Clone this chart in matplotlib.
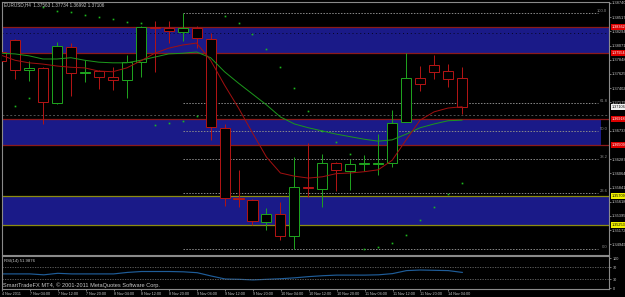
import numpy as np
import matplotlib
matplotlib.use("Agg")
import matplotlib.pyplot as plt
import matplotlib.transforms as mtransforms
from matplotlib.patches import Rectangle

# EURUSD H4 candles (4 Nov 20:00 .. 14 Nov 04:00)
opens = [1.37970, 1.38158, 1.37687, 1.37718, 1.37169, 1.38048, 1.37640, 1.37671,
         1.37577, 1.37530, 1.37813, 1.38362, 1.38346, 1.38284, 1.38346, 1.38174,
         1.36776, 1.35677, 1.35646, 1.35301, 1.35426, 1.35081, 1.35850, 1.35819,
         1.36227, 1.36101, 1.36211, 1.36211, 1.36227, 1.36871, 1.37561, 1.37765,
         1.37671, 1.37563]
highs = [1.38001, 1.38174, 1.37828, 1.37734, 1.38127, 1.38111, 1.37844, 1.37687,
         1.37734, 1.37922, 1.38378, 1.38456, 1.38456, 1.38582, 1.38378, 1.38268,
         1.36839, 1.36117, 1.35662, 1.35520, 1.35615, 1.36321, 1.36541, 1.36368,
         1.36243, 1.36290, 1.36352, 1.36682, 1.37059, 1.37954, 1.37750, 1.37922,
         1.37781, 1.37734]
lows = [1.37797, 1.37546, 1.37514, 1.36839, 1.37153, 1.37279, 1.37499, 1.37389,
        1.37373, 1.37247, 1.37577, 1.37656, 1.38111, 1.38142, 1.38032, 1.36588,
        1.35552, 1.35536, 1.35253, 1.35175, 1.35018, 1.34877, 1.35693, 1.35536,
        1.35787, 1.35803, 1.36101, 1.36038, 1.36164, 1.36871, 1.37357, 1.37546,
        1.37420, 1.36992]
closes = [1.37828, 1.37687, 1.37718, 1.37185, 1.38064, 1.37640, 1.37656, 1.37577,
          1.37530, 1.37813, 1.38362, 1.38346, 1.38299, 1.38346, 1.38189, 1.36792,
          1.35677, 1.35662, 1.35316, 1.35426, 1.35081, 1.35850, 1.35834, 1.36227,
          1.36117, 1.36211, 1.36227, 1.36227, 1.36855, 1.37561, 1.37467, 1.37656,
          1.37546, 1.37106]

ma_fast = [1.3792, 1.3784, 1.3780, 1.3778, 1.3775, 1.3773, 1.3772, 1.3767, 1.3766,
           1.3772, 1.3783, 1.3795, 1.3803, 1.3808, 1.3811, 1.3784, 1.3745, 1.3709,
           1.3670, 1.3632, 1.3607, 1.3602, 1.3599, 1.3601, 1.3606, 1.3607, 1.3609,
           1.3612, 1.3627, 1.3659, 1.3690, 1.3703, 1.3709, 1.3711]
ma_slow = [1.3795, 1.3794, 1.3791, 1.3786, 1.3786, 1.3788, 1.3784, 1.3781, 1.3780,
           1.3780, 1.3784, 1.3789, 1.3794, 1.3795, 1.3797, 1.3788, 1.3766, 1.3748,
           1.3731, 1.3714, 1.3695, 1.3684, 1.3678, 1.3673, 1.3668, 1.3664, 1.3660,
           1.3657, 1.3659, 1.3668, 1.3678, 1.3684, 1.3689, 1.3690]
sar = [np.nan, 1.37122, 1.37247, 1.38676, 1.38613, 1.38598, 1.38550, 1.38519,
       1.38488, 1.38441, 1.38425, 1.36823, 1.36855, 1.36886, 1.36965, np.nan,
       1.38535, 1.38425, 1.38252, 1.38017, 1.37734, 1.37404, 1.37043, 1.36729,
       1.36557, 1.36368, 1.34877, 1.34908, 1.34971, 1.35096, 1.35332, 1.35536,
       1.35740, 1.35913]
rsi = [47, 47, 47, 44, 49, 47, 47, 47, 47, 52, 55, 55, 55, 54, 51, 40, 30, 29,
       27, 29, 31, 34, 38, 41, 43, 43, 43, 44, 48, 58, 60, 59, 58, 52]

time_labels = ["4 Nov 2011", "7 Nov 04:00", "7 Nov 12:00", "7 Nov 20:00",
               "8 Nov 04:00", "8 Nov 12:00", "8 Nov 20:00", "9 Nov 04:00",
               "9 Nov 12:00", "9 Nov 20:00", "10 Nov 04:00", "10 Nov 12:00",
               "10 Nov 20:00", "11 Nov 04:00", "11 Nov 12:00", "11 Nov 20:00",
               "14 Nov 04:00"]

# supply / demand zones (bottom, top) and border colour
zones = [(1.37954, 1.38362, "#8b1a1a"), (1.36509, 1.36918, "#8b1a1a"),
         (1.35253, 1.35709, "#8c8c10")]
fib_high, fib_low = 1.38582, 1.34877
fib_levels = [0.0, 23.6, 38.2, 50.0, 61.8, 100.0]
last_price = 1.37106

W, H = 625, 297
BULL, BEAR = "#1ea01e", "#b01414"
GRAY = "#8a8a8a"
TXT = "#c8c8c8"
FONT = "Liberation Sans"


def box(x0, y0, x1, y1):
    return [x0 / W, 1 - y1 / H, (x1 - x0) / W, (y1 - y0) / H]


fig = plt.figure(figsize=(W / 100, H / 100), dpi=100, facecolor="black")
ax = fig.add_axes(box(2, 2, 609, 255))
rax = fig.add_axes(box(2, 256, 609, 289))
x = np.arange(len(closes))

for a in (ax, rax):
    a.set_facecolor("black")
    a.set_xlim(0.07, 43.52)
    for s in a.spines.values():
        s.set_color(GRAY)
        s.set_linewidth(0.8)

ax.set_ylim(1.34782, 1.38755)

# zones
for k, (lo, hi, ec) in enumerate(zones):
    xmax = 0.987 if k == 1 else 1.0
    ax.axhspan(lo, hi, xmax=xmax, color="#1a1a88", lw=0, zorder=1)
    ax.axhline(lo, color=ec, lw=0.9, zorder=2)
    ax.axhline(hi, color=ec, lw=0.9, zorder=2)

# misc level lines
ax.axhline(1.38268, color="#050520", lw=0.7, ls=(0, (1, 3)), zorder=2)
ax.axhline(1.36980, color="#505050", lw=0.7, ls=(0, (2, 2)), zorder=2)

# fibonacci
for lv in fib_levels:
    p = fib_low + (fib_high - fib_low) * lv / 100
    ax.hlines(p, 13.03, 42.73, color=GRAY, lw=0.7, ls=(0, (1.5, 1.5)), zorder=2)
    ax.text(43.4, p, f"{lv:.1f}", ha="right", va="bottom", fontsize=3,
            color=GRAY, family=FONT, zorder=6)

# candles
for i, (o, h, l, c) in enumerate(zip(opens, highs, lows, closes)):
    col = BULL if c >= o else BEAR
    ax.vlines(i, l, h, color=col, lw=0.72, zorder=3)
    ax.add_patch(Rectangle((i - 0.36, min(o, c)), 0.72, max(abs(c - o), 1e-6),
                           fc="black", ec=col, lw=0.72, zorder=4))

ax.plot(x, ma_slow, color="#1c961c", lw=0.72, zorder=5)
ax.plot(x, ma_fast, color="#a01010", lw=0.72, zorder=5)
ax.plot(x, sar, ls="none", marker="s", ms=1.2, mew=0, color="#1db81d", zorder=5)

# coloured price tags
tags = [(zones[0][1], "#dd0000", "white"), (zones[0][0], "#dd0000", "white"),
        (zones[1][1], "#dd0000", "white"), (zones[1][0], "#dd0000", "white"),
        (zones[2][1], "#f0f000", "black"), (zones[2][0], "#f0f000", "black"),
        (last_price, "#f0f0f0", "black")]

# price axis (labels hidden under a tag are left out, as in the terminal)
ticks = 1.3874 - 0.00223 * np.arange(18)
ticks = [t for t in ticks if min(abs(t - p) for p, _, _ in tags) > 0.0006]
ax.yaxis.tick_right()
ax.set_yticks(ticks)
ax.yaxis.set_major_formatter(matplotlib.ticker.FormatStrFormatter("%.5f"))
ax.tick_params(axis="y", labelsize=2.9, labelcolor=TXT, color=GRAY,
               length=1.5, width=0.6, pad=0.5)
for lab in ax.get_yticklabels():
    lab.set_family(FONT)
ax.set_xticks([])

trans = mtransforms.blended_transform_factory(ax.transAxes, ax.transData)
for p, fc, tc in tags:
    ax.text(1.004, p, f"{p:.5f}", transform=trans, ha="left", va="center",
            fontsize=2.7, color=tc, family=FONT, clip_on=False, zorder=10,
            bbox=dict(boxstyle="square,pad=0.2", fc=fc, ec="none"))

# RSI
rax.set_ylim(-3.3, 106.7)
rax.plot(x, rsi, color="#1f5d99", lw=0.85)
for lv in (70, 30):
    rax.axhline(lv, color="#6a6a6a", lw=0.6, ls=(0, (1.5, 1.5)))
rax.yaxis.tick_right()
rax.set_yticks([0, 30, 70, 100])
rax.set_yticklabels(["0", "30", "70", "100"])
rax.set_xticks(np.arange(0, 33, 2))
rax.set_xticklabels(time_labels, ha="left")
rax.tick_params(labelsize=2.7, labelcolor=TXT, color=GRAY, length=1.5,
                width=0.6, pad=1)
for lab in rax.get_xticklabels() + rax.get_yticklabels():
    lab.set_family(FONT)

fig.text(4 / W, 1 - 5 / H, "EURUSD,H4  1.37563 1.37734 1.36992 1.37106",
         fontsize=3.3, color=TXT, family=FONT, va="center")
fig.text(4 / W, 1 - 261 / H, "RSI(14) 51.9876", fontsize=3.1, color=TXT,
         family=FONT, va="center")
fig.text(3 / W, 1 - 285 / H,
         "SmartTradeFX MT4, \u00a9 2001-2011 MetaQuotes Software Corp.",
         fontsize=4.1, color=TXT, family=FONT, va="center")

fig.savefig("out.png", dpi=100, facecolor="black")
